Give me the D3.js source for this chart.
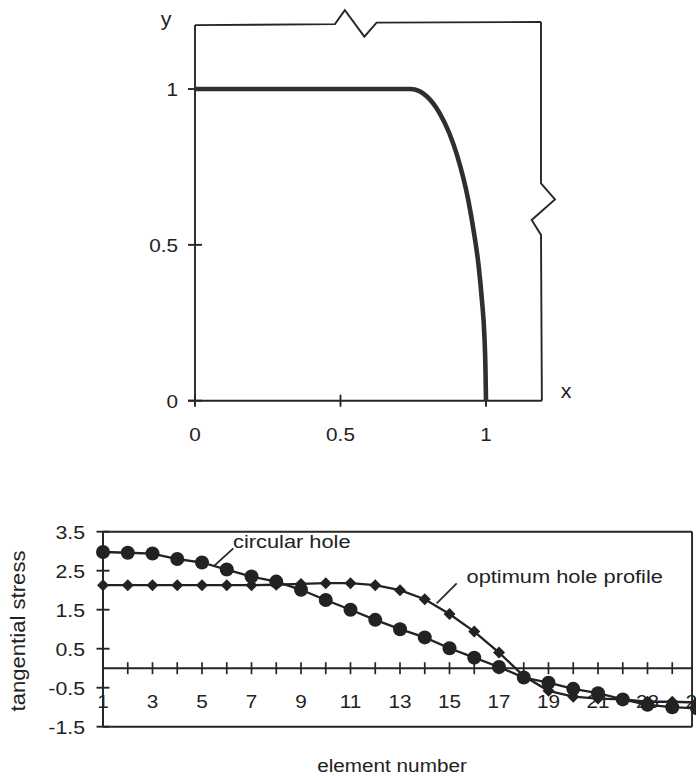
<!DOCTYPE html>
<html><head><meta charset="utf-8">
<script src="https://cdn.jsdelivr.net/npm/d3@7"></script>
<style>
html,body{margin:0;padding:0;background:#fff;}
svg{display:block;}
text{font-family:"Liberation Sans",Arial,sans-serif;fill:#222;}
</style></head>
<body>
<script>
// ---------- data: top chart (hole profile) ----------
const profileX = [0, 0.74, 0.771, 0.797, 0.841, 0.874, 0.902, 0.939, 0.959, 0.975, 0.986, 0.994, 0.998, 1.0];
const profileY = [1, 1, 0.993, 0.976, 0.922, 0.858, 0.783, 0.644, 0.537, 0.430, 0.323, 0.217, 0.110, 0];
const topXTicks = [0, 0.5, 1];
const topXTickLabels = ["0", "0.5", "1"];
const topYTicks = [0, 0.5, 1];
const topYTickLabels = ["0", "0.5", "1"];
// frame outline with break symbols (data units)
const frameTop = [[0,1.205],[0.481,1.208],[0.515,1.253],[0.582,1.168],[0.624,1.213],[1.189,1.215]];
const frameRight = [[1.189,1.215],[1.189,0.697],[1.237,0.646],[1.157,0.580],[1.189,0.532],[1.192,0]];

// ---------- data: bottom chart (tangential stress) ----------
const elements = [1,2,3,4,5,6,7,8,9,10,11,12,13,14,15,16,17,18,19,20,21,22,23,24,25];
const elementLabels = ["1","3","5","7","9","11","13","15","17","19","21","23","25"];
const elementLabelPos = [1,3,5,7,9,11,13,15,17,19,21,23,25];
const circularHole = [2.98, 2.96, 2.94, 2.80, 2.71, 2.53, 2.35, 2.22, 2.01, 1.75, 1.50, 1.24, 1.00, 0.79, 0.51, 0.27, 0.03, -0.24, -0.37, -0.53, -0.64, -0.80, -0.94, -1.00, -1.03];
const optimumProfile = [2.13, 2.13, 2.13, 2.13, 2.13, 2.13, 2.13, 2.14, 2.16, 2.18, 2.18, 2.13, 2.00, 1.77, 1.39, 0.94, 0.40, -0.20, -0.58, -0.73, -0.78, -0.80, -0.86, -0.86, -0.88];
const stressTicks = [3.5, 2.5, 1.5, 0.5, -0.5, -1.5];
const stressTickLabels = ["3.5", "2.5", "1.5", "0.5", "-0.5", "-1.5"];

const W = 696, H = 777;
const ink = "#262626";
const svg = d3.select("body").append("svg").attr("width", W).attr("height", H);

function label(g, x, y, txt, anchor, size, sx) {
  return g.append("text")
    .attr("transform", `translate(${x},${y}) scale(${sx},1)`)
    .attr("text-anchor", anchor)
    .style("font-size", size + "px")
    .text(txt);
}

// ================= TOP CHART =================
const xT = d3.scaleLinear().domain([0, 1]).range([195, 486]);
const yT = d3.scaleLinear().domain([0, 1]).range([400.7, 89]);
const gT = svg.append("g");
const lineT = d3.line().x(d => xT(d[0])).y(d => yT(d[1]));
const sw = 1.9;

// frame
gT.append("path").attr("d", lineT(frameTop)).attr("fill", "none").attr("stroke", ink).attr("stroke-width", sw);
gT.append("path").attr("d", lineT(frameRight)).attr("fill", "none").attr("stroke", ink).attr("stroke-width", sw);
// left axis
gT.append("line").attr("x1", xT(0)).attr("x2", xT(0)).attr("y1", yT(1.205)).attr("y2", yT(0))
  .attr("stroke", ink).attr("stroke-width", sw);
// bottom axis
gT.append("line").attr("x1", xT(0) - 7).attr("x2", xT(1.192)).attr("y1", yT(0)).attr("y2", yT(0))
  .attr("stroke", ink).attr("stroke-width", sw);
// y ticks (crossing)
gT.selectAll(".yt").data(topYTicks).join("line")
  .attr("x1", xT(0) - 7).attr("x2", xT(0) + 7)
  .attr("y1", d => yT(d)).attr("y2", d => yT(d))
  .attr("stroke", ink).attr("stroke-width", sw);
// x ticks (crossing)
gT.selectAll(".xt").data(topXTicks).join("line")
  .attr("x1", d => xT(d)).attr("x2", d => xT(d))
  .attr("y1", yT(0) - 6).attr("y2", yT(0) + 6)
  .attr("stroke", ink).attr("stroke-width", sw);
// tick labels
topYTicks.forEach((v, i) => label(gT, xT(0) - 17, yT(v) + 6.8, topYTickLabels[i], "end", 18.5, 1.12));
topXTicks.forEach((v, i) => label(gT, xT(v), yT(0) + 39.8, topXTickLabels[i], "middle", 18.5, 1.12));
label(gT, 166, 26, "y", "middle", 19.5, 1.1);
label(gT, 566, 398, "x", "middle", 19.5, 1.1);

// profile curve
const profile = profileX.map((x, i) => [x, profileY[i]]);
gT.append("path")
  .attr("d", d3.line().x(d => xT(d[0])).y(d => yT(d[1])).curve(d3.curveMonotoneX)(profile))
  .attr("fill", "none").attr("stroke", "#2f2f2f").attr("stroke-width", 4.6).attr("stroke-linejoin", "round");

// ================= BOTTOM CHART =================
const xB = d3.scaleLinear().domain([1, 25]).range([103, 697]);
const yB = d3.scaleLinear().domain([-1.5, 3.5]).range([726.7, 531.7]);
const gB = svg.append("g");
const rightEdge = 24.8;

// plot frame
gB.append("line").attr("x1", xB(1)).attr("x2", xB(rightEdge)).attr("y1", yB(3.5)).attr("y2", yB(3.5)).attr("stroke", ink).attr("stroke-width", sw);
gB.append("line").attr("x1", xB(1)).attr("x2", xB(rightEdge)).attr("y1", yB(-1.5)).attr("y2", yB(-1.5)).attr("stroke", ink).attr("stroke-width", sw);
gB.append("line").attr("x1", xB(rightEdge)).attr("x2", xB(rightEdge)).attr("y1", yB(3.5)).attr("y2", yB(-1.5)).attr("stroke", ink).attr("stroke-width", sw);
gB.append("line").attr("x1", xB(1)).attr("x2", xB(1)).attr("y1", yB(3.5)).attr("y2", yB(-1.5)).attr("stroke", ink).attr("stroke-width", 2);
// zero line
gB.append("line").attr("x1", xB(1)).attr("x2", xB(rightEdge)).attr("y1", yB(0)).attr("y2", yB(0)).attr("stroke", ink).attr("stroke-width", sw);
// category ticks on zero line
gB.selectAll(".ct").data(elements).join("line")
  .attr("x1", d => xB(d)).attr("x2", d => xB(d))
  .attr("y1", yB(0) - 6).attr("y2", yB(0) + 6)
  .attr("stroke", ink).attr("stroke-width", 1.7);
// value ticks (crossing)
gB.selectAll(".vt").data(stressTicks).join("line")
  .attr("x1", xB(1) - 6.5).attr("x2", xB(1) + 6.5)
  .attr("y1", d => yB(d)).attr("y2", d => yB(d))
  .attr("stroke", ink).attr("stroke-width", sw);
stressTicks.forEach((v, i) => label(gB, 85, yB(v) + 6.8, stressTickLabels[i], "end", 18.5, 1.15));
// category labels
elementLabelPos.forEach((v, i) => label(gB, xB(v), 708, elementLabels[i], "middle", 18.5, 1.12));

// axis titles
label(gB, 392, 772, "element number", "middle", 18.5, 1.12);
gB.append("text")
  .attr("transform", `translate(25,631) rotate(-90)`)
  .attr("text-anchor", "middle")
  .attr("textLength", 161).attr("lengthAdjust", "spacingAndGlyphs")
  .style("font-size", "20px")
  .text("tangential stress");

// series lines
const lineB = d3.line().x((d, i) => xB(elements[i])).y(d => yB(d));
gB.append("path").attr("d", lineB(optimumProfile)).attr("fill", "none").attr("stroke", "#222").attr("stroke-width", 2.3);
gB.append("path").attr("d", lineB(circularHole)).attr("fill", "none").attr("stroke", "#222").attr("stroke-width", 2.3);
// diamonds
gB.selectAll(".dm").data(optimumProfile).join("path")
  .attr("d", d3.symbol(d3.symbolSquare, 72)())
  .attr("transform", (d, i) => `translate(${xB(elements[i])},${yB(d)}) rotate(45)`)
  .attr("fill", "#222");
// circles
gB.selectAll(".cc").data(circularHole).join("circle")
  .attr("cx", (d, i) => xB(elements[i])).attr("cy", d => yB(d)).attr("r", 7)
  .attr("fill", "#222");

// annotations
gB.append("line").attr("x1", 213.3).attr("y1", 566.7).attr("x2", 233.3).attr("y2", 548.3).attr("stroke", ink).attr("stroke-width", 1.8);
label(gB, 233, 548, "circular hole", "start", 18.5, 1.18);
gB.append("line").attr("x1", 436.7).attr("y1", 603.3).attr("x2", 456.7).attr("y2", 583.3).attr("stroke", ink).attr("stroke-width", 1.8);
label(gB, 466.5, 583, "optimum hole profile", "start", 18.5, 1.18);
</script>
</body></html>
